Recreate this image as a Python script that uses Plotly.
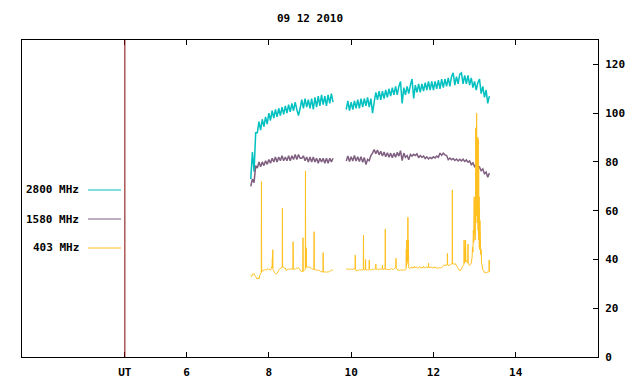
import numpy as np
import plotly.graph_objects as go

TITLE = "09 12 2010"
SERIES_NAMES = ["2800 MHz", "1580 MHz", "403 MHz"]
COLORS = ["#00c0c0", "#7f5f80", "#ffc020"]
TRACE_WIDTHS = [1.5, 1.5, 1]

X_TICKS = [4.5, 6, 8, 10, 12, 14]
X_TICK_LABELS = ["UT", "6", "8", "10", "12", "14"]
Y_TICKS = [0, 20, 40, 60, 80, 100, 120]

# Sample grid (hours UT) for 2800 / 1580 MHz: two observing segments
SEG1_START, SEG2_START, STEP = 7.56, 9.88, 0.04

CYAN_SEG1 = [73, 84, 76, 92, 92, 96.5, 93, 97.5, 94.5, 98.5, 95.5, 100, 97, 101, 98, 101.5,
             98.5, 102, 99, 102.5, 99.5, 103, 100, 103.5, 100.5, 104, 101, 104.5, 101.5, 99,
             102, 105.5, 102, 106, 102.5, 105.5, 102, 106, 101.5, 106.5, 102.5, 107, 103,
             107.5, 103.5, 107, 103, 107.5, 104, 108, 104.5]
CYAN_SEG2 = [101.5, 105, 101, 104.5, 101.5, 105, 102, 105.5, 102, 106, 102.5, 106, 103, 106.5,
             102.5, 106, 100, 104.5, 108.5, 105.5, 109, 105.5, 109, 106, 109.5, 106.5, 110, 107,
             110.5, 107.5, 111, 107.5, 111, 113, 104, 110.5, 107.5, 111, 108, 111.5, 114, 106,
             111.5, 108.5, 112, 108.5, 112, 109, 112.5, 109.5, 113, 109.5, 113, 109.5, 113, 110,
             113.5, 110, 114, 110.5, 114, 111, 114.5, 111, 115, 116.5, 111.5, 115, 112, 116,
             116.5, 112, 115.5, 112, 115.5, 111.5, 114.5, 110.5, 113, 109.5, 112.5, 114, 108,
             111, 106.5, 109.5, 104, 107]

PURPLE_SEG1 = [70, 73, 71.5, 78.5, 77.5, 80, 78, 80, 78.5, 80.5, 79, 81, 79.5, 81.5, 80, 82,
               80, 82, 80.5, 82.5, 80.5, 82, 80.5, 82.5, 80.5, 82.5, 81, 83, 81, 83, 81.5, 81.5,
               82.5, 80.5, 82, 80, 82, 80, 82, 80, 81.5, 79.5, 81.5, 80, 81.5, 79.5, 81.5, 79.5,
               81.5, 80, 81.5]
PURPLE_SEG2 = [80.4, 82.4, 80.2, 82.1, 80.4, 82.6, 80.4, 82.1, 80.2, 82.1, 79.9, 81.8, 78.9,
               81.1, 80.5, 82.6, 83.6, 85.1, 83.4, 84.9, 82.9, 84.4, 82.4, 84.1, 82.1, 83.8,
               81.9, 83.6, 81.7, 83.6, 81.9, 83.9, 82.4, 84.6, 80.5, 83.6, 81.9, 82.6, 80.9,
               83.1, 82.4, 83.1, 82.6, 83.3, 81.7, 82.6, 81.9, 82.4, 81.4, 82.1, 81.2, 81.8,
               81.4, 82.1, 81.6, 82.4, 81.9, 83.6, 82.7, 83.6, 82.9, 82.6, 80.9, 81.6, 80.9,
               81.4, 80.6, 81.2, 80.4, 81.1, 80.4, 81.1, 80.2, 80.8, 79.9, 80.4, 78.9, 79.6,
               78.1, 78.8, 77.2, 77.9, 76.4, 77.1, 75.2, 75.8, 73.7, 75.4]

# 403 MHz: irregular samples (time, value) with narrow bursts
ORANGE_SEG1_T = [7.56, 7.58, 7.60, 7.62, 7.64, 7.66, 7.68, 7.70, 7.72, 7.74, 7.76, 7.78, 7.80,
                 7.815, 7.82, 7.825, 7.84, 7.86, 7.88, 7.90, 7.92, 7.94, 7.96, 7.98, 8.00, 8.02,
                 8.04, 8.06, 8.08, 8.085, 8.09, 8.095, 8.10, 8.12, 8.14, 8.16, 8.18, 8.20, 8.22,
                 8.24, 8.26, 8.28, 8.30, 8.325, 8.33, 8.335, 8.36, 8.38, 8.40, 8.42, 8.44, 8.46,
                 8.48, 8.50, 8.52, 8.54, 8.585, 8.59, 8.595, 8.62, 8.64, 8.66, 8.68, 8.70, 8.72,
                 8.74, 8.76, 8.78, 8.80, 8.825, 8.83, 8.835, 8.86, 8.885, 8.89, 8.895, 8.905, 8.91,
                 8.915, 8.94, 8.96, 8.98, 9.00, 9.02, 9.04, 9.06, 9.08, 9.095, 9.10, 9.105, 9.12,
                 9.14, 9.16, 9.18, 9.20, 9.22, 9.24, 9.26, 9.28, 9.30, 9.315, 9.32, 9.325, 9.34,
                 9.36, 9.38, 9.40, 9.42, 9.44, 9.46, 9.48, 9.50, 9.52, 9.54, 9.56]
ORANGE_SEG1_V = [33.5, 33.0, 34.0, 33.8, 34.2, 33.5, 33.0, 32.2, 32.0, 32.5, 32.0, 33.5, 34.3,
                 34.5, 72.0, 34.8, 35.2, 35.7, 35.5, 35.8, 36.0, 35.6, 35.9, 36.2, 35.8, 36.0,
                 35.7, 36.3, 37.5, 40.5, 36.5, 44.0, 36.0, 35.2, 34.6, 34.3, 34.0, 34.2, 34.8,
                 35.5, 36.0, 36.4, 36.5, 36.8, 61.0, 36.8, 36.8, 36.5, 36.6, 35.4, 35.6, 36.0,
                 36.1, 35.9, 36.0, 36.2, 36.0, 47.3, 36.0, 36.1, 35.9, 36.3, 36.5, 36.4, 36.6,
                 36.3, 35.5, 35.2, 35.0, 35.0, 48.9, 35.2, 35.5, 36.0, 76.3, 37.0, 36.5, 44.8,
                 37.2, 37.0, 36.8, 36.9, 36.6, 36.5, 36.3, 36.0, 36.1, 36.0, 51.4, 35.9, 35.9,
                 35.8, 35.6, 35.7, 35.5, 35.6, 35.3, 35.0, 35.1, 34.9, 34.9, 42.8, 34.8, 34.9,
                 34.8, 35.0, 34.7, 34.9, 34.8, 35.0, 35.2, 35.4, 35.7, 35.5, 35.7]

ORANGE_SEG2_T = [9.88, 9.90, 9.92, 9.94, 9.96, 9.98, 10.00, 10.02, 10.04, 10.06, 10.08, 10.095,
                 10.10, 10.105, 10.12, 10.14, 10.16, 10.18, 10.20, 10.22, 10.24, 10.26, 10.28,
                 10.295, 10.30, 10.305, 10.32, 10.345, 10.35, 10.355, 10.38, 10.40, 10.42, 10.435,
                 10.44, 10.445, 10.46, 10.48, 10.50, 10.52, 10.54, 10.56, 10.595, 10.60, 10.605,
                 10.62, 10.64, 10.66, 10.68, 10.70, 10.72, 10.74, 10.755, 10.76, 10.765, 10.80,
                 10.825, 10.83, 10.835, 10.86, 10.88, 10.90, 10.92, 10.94, 10.96, 10.98, 11.00,
                 11.02, 11.04, 11.06, 11.085, 11.09, 11.095, 11.12, 11.14, 11.16, 11.18, 11.20,
                 11.22, 11.24, 11.26, 11.28, 11.30, 11.32, 11.335, 11.34, 11.345, 11.35, 11.355,
                 11.365, 11.37, 11.38, 11.385, 11.39, 11.40, 11.42, 11.44, 11.46, 11.48, 11.50,
                 11.52, 11.54, 11.56, 11.58, 11.60, 11.62, 11.64, 11.66, 11.68, 11.70, 11.72,
                 11.74, 11.76, 11.78, 11.80, 11.82, 11.84, 11.86, 11.875, 11.88, 11.885, 11.90,
                 11.92, 11.94, 11.96, 11.98, 12.00, 12.02, 12.04, 12.06, 12.08, 12.10, 12.12,
                 12.14, 12.16, 12.18, 12.20, 12.22, 12.24, 12.26, 12.28, 12.30, 12.32, 12.335,
                 12.34, 12.345, 12.36, 12.38, 12.40, 12.42, 12.44, 12.455, 12.46, 12.465, 12.48,
                 12.50, 12.52, 12.54, 12.56, 12.58, 12.60, 12.62, 12.64, 12.66, 12.68, 12.70,
                 12.72, 12.74, 12.745, 12.755, 12.765, 12.775, 12.78, 12.79, 12.80, 12.82, 12.835,
                 12.84, 12.845, 12.86, 12.88, 12.90, 12.92, 12.94, 12.95, 12.96, 12.97, 12.98,
                 12.99, 12.995, 13.00, 13.005, 13.01, 13.015, 13.02, 13.025, 13.03, 13.035, 13.04,
                 13.045, 13.05, 13.055, 13.06, 13.065, 13.07, 13.075, 13.08, 13.085, 13.09,
                 13.095, 13.10, 13.105, 13.11, 13.115, 13.12, 13.125, 13.13, 13.14, 13.15, 13.16,
                 13.17, 13.18, 13.20, 13.22, 13.24, 13.26, 13.28, 13.30, 13.32, 13.34, 13.35,
                 13.355, 13.36]
ORANGE_SEG2_V = [36.0, 36.2, 35.9, 36.1, 36.0, 35.8, 36.1, 36.0, 35.9, 36.2, 36.0, 36.5,
                 41.8, 36.0, 35.3, 35.4, 35.6, 35.5, 35.8, 35.6, 35.7, 35.8, 35.6,
                 35.8, 50.0, 35.9, 35.7, 35.8, 40.0, 35.8, 35.6, 35.8, 35.7, 35.9,
                 39.8, 36.0, 35.8, 35.6, 35.9, 36.0, 35.8, 36.0, 36.1, 38.1, 36.0,
                 35.9, 36.1, 35.8, 36.0, 35.9, 36.2, 36.0, 36.1, 37.7, 36.0, 36.0,
                 36.1, 52.5, 36.0, 35.9, 36.0, 35.8, 36.0, 35.8, 36.1, 36.3, 36.0,
                 35.8, 36.2, 36.5, 36.9, 40.5, 36.5, 35.8, 35.6, 35.7, 35.5, 35.8,
                 35.6, 35.7, 35.5, 35.8, 35.6, 35.8, 36.0, 44.2, 37.0, 48.0, 38.0,
                 44.0, 39.0, 57.3, 40.0, 48.0, 36.5, 36.2, 36.5, 36.8, 36.4, 36.9,
                 36.6, 37.2, 36.5, 37.0, 36.7, 36.3, 36.8, 37.1, 36.6, 36.4, 36.9,
                 36.5, 37.2, 36.7, 36.4, 36.8, 37.0, 36.6, 36.8, 38.5, 36.8, 36.5,
                 37.0, 36.6, 36.9, 36.4, 36.7, 37.0, 36.5, 36.8, 36.4, 36.6, 36.3,
                 36.5, 36.8, 36.4, 36.7, 37.0, 37.5, 37.8, 37.4, 37.8, 37.6, 37.8,
                 42.5, 37.8, 37.5, 37.8, 37.6, 38.0, 38.2, 38.3, 68.5, 38.5, 38.0,
                 38.4, 37.9, 38.2, 37.5, 36.8, 36.5, 35.8, 35.4, 35.5, 36.2, 37.0,
                 37.5, 38.0, 48.0, 38.5, 45.0, 39.0, 48.0, 40.0, 39.5, 38.8, 38.5,
                 46.3, 38.5, 38.0, 37.5, 38.0, 38.5, 41.0, 45.0, 43.0, 52.0, 47.0,
                 65.7, 50.0, 63.0, 52.0, 64.0, 48.0, 62.0, 55.0, 94.0, 60.0, 93.5,
                 58.0, 100.0, 62.0, 90.0, 55.0, 78.0, 60.0, 90.0, 52.0, 89.0,
                 50.0, 78.0, 48.0, 65.7, 45.0, 61.0, 44.0, 56.0, 49.0, 42.0, 44.0,
                 38.4, 38.0, 35.7, 35.5, 34.6, 34.4, 34.8, 34.5, 35.0, 34.8, 35.0,
                 39.8, 35.0]


def grid(start, n):
    return list(np.round(start + STEP * np.arange(n), 3))


def join(t1, v1, t2, v2):
    return list(t1) + [None] + list(t2), list(v1) + [None] + list(v2)


cx, cy = join(grid(SEG1_START, len(CYAN_SEG1)), CYAN_SEG1, grid(SEG2_START, len(CYAN_SEG2)), CYAN_SEG2)
px, py = join(grid(SEG1_START, len(PURPLE_SEG1)), PURPLE_SEG1, grid(SEG2_START, len(PURPLE_SEG2)), PURPLE_SEG2)
ox, oy = join(ORANGE_SEG1_T, ORANGE_SEG1_V, ORANGE_SEG2_T, ORANGE_SEG2_V)

FONT = dict(family="DejaVu Sans Mono", size=11, color="black", weight="bold")

fig = go.Figure()
for (x, y), name, col, w in zip([(cx, cy), (px, py), (ox, oy)], SERIES_NAMES, COLORS, TRACE_WIDTHS):
    fig.add_trace(go.Scatter(x=x, y=y, mode="lines", name=name, connectgaps=False,
                             line=dict(color=col, width=w, simplify=False),
                             showlegend=False, hoverinfo="skip"))

# page body adds an 8px offset; figure sized so the plot box lands on the reference pixels
OFF = 8
W, H = 640 - OFF, 384 - OFF
L, R, T, B = 22 - OFF, 42, 40 - OFF, 27


def xp(px_):
    return (px_ - OFF - L) / (W - L - R)


def yp(py_):
    return (H - B - (py_ - OFF)) / (H - T - B)


legend_rows = [190, 219, 248]
for name, col, row in zip(SERIES_NAMES, COLORS, legend_rows):
    fig.add_annotation(x=xp(81), y=yp(row), xref="paper", yref="paper", text=name,
                       showarrow=False, xanchor="right", yanchor="middle", font=FONT)
    fig.add_shape(type="line", xref="paper", yref="paper", x0=xp(88), x1=xp(121),
                  y0=yp(row), y1=yp(row), line=dict(color=col, width=1))

# UT marker line
fig.add_shape(type="line", xref="x", yref="paper", x0=4.5, x1=4.5, y0=0, y1=1,
              line=dict(color="#800000", width=1), layer="above")

fig.update_layout(
    width=W, height=H,
    margin=dict(l=L, r=R, t=T, b=B, autoexpand=False),
    paper_bgcolor="white", plot_bgcolor="white",
    title=dict(text=TITLE, x=xp(310), xref="paper", xanchor="center",
               y=1 - (18 - OFF) / H, yref="container", yanchor="middle", font=FONT),
    xaxis=dict(range=[2, 16], tickvals=X_TICKS, ticktext=X_TICK_LABELS,
               ticks="inside", ticklen=5, tickcolor="black", showline=True,
               linecolor="black", linewidth=1, mirror="ticks", showgrid=False,
               zeroline=False, tickfont=FONT, automargin=False, ticklabelstandoff=5),
    yaxis=dict(range=[0, 130], tickvals=Y_TICKS, side="right",
               ticks="inside", ticklen=5, tickcolor="black", showline=True,
               linecolor="black", linewidth=1, mirror=True, showgrid=False,
               zeroline=False, tickfont=FONT, ticklabelstandoff=4, automargin=False),
)

fig.write_html("out.html")
